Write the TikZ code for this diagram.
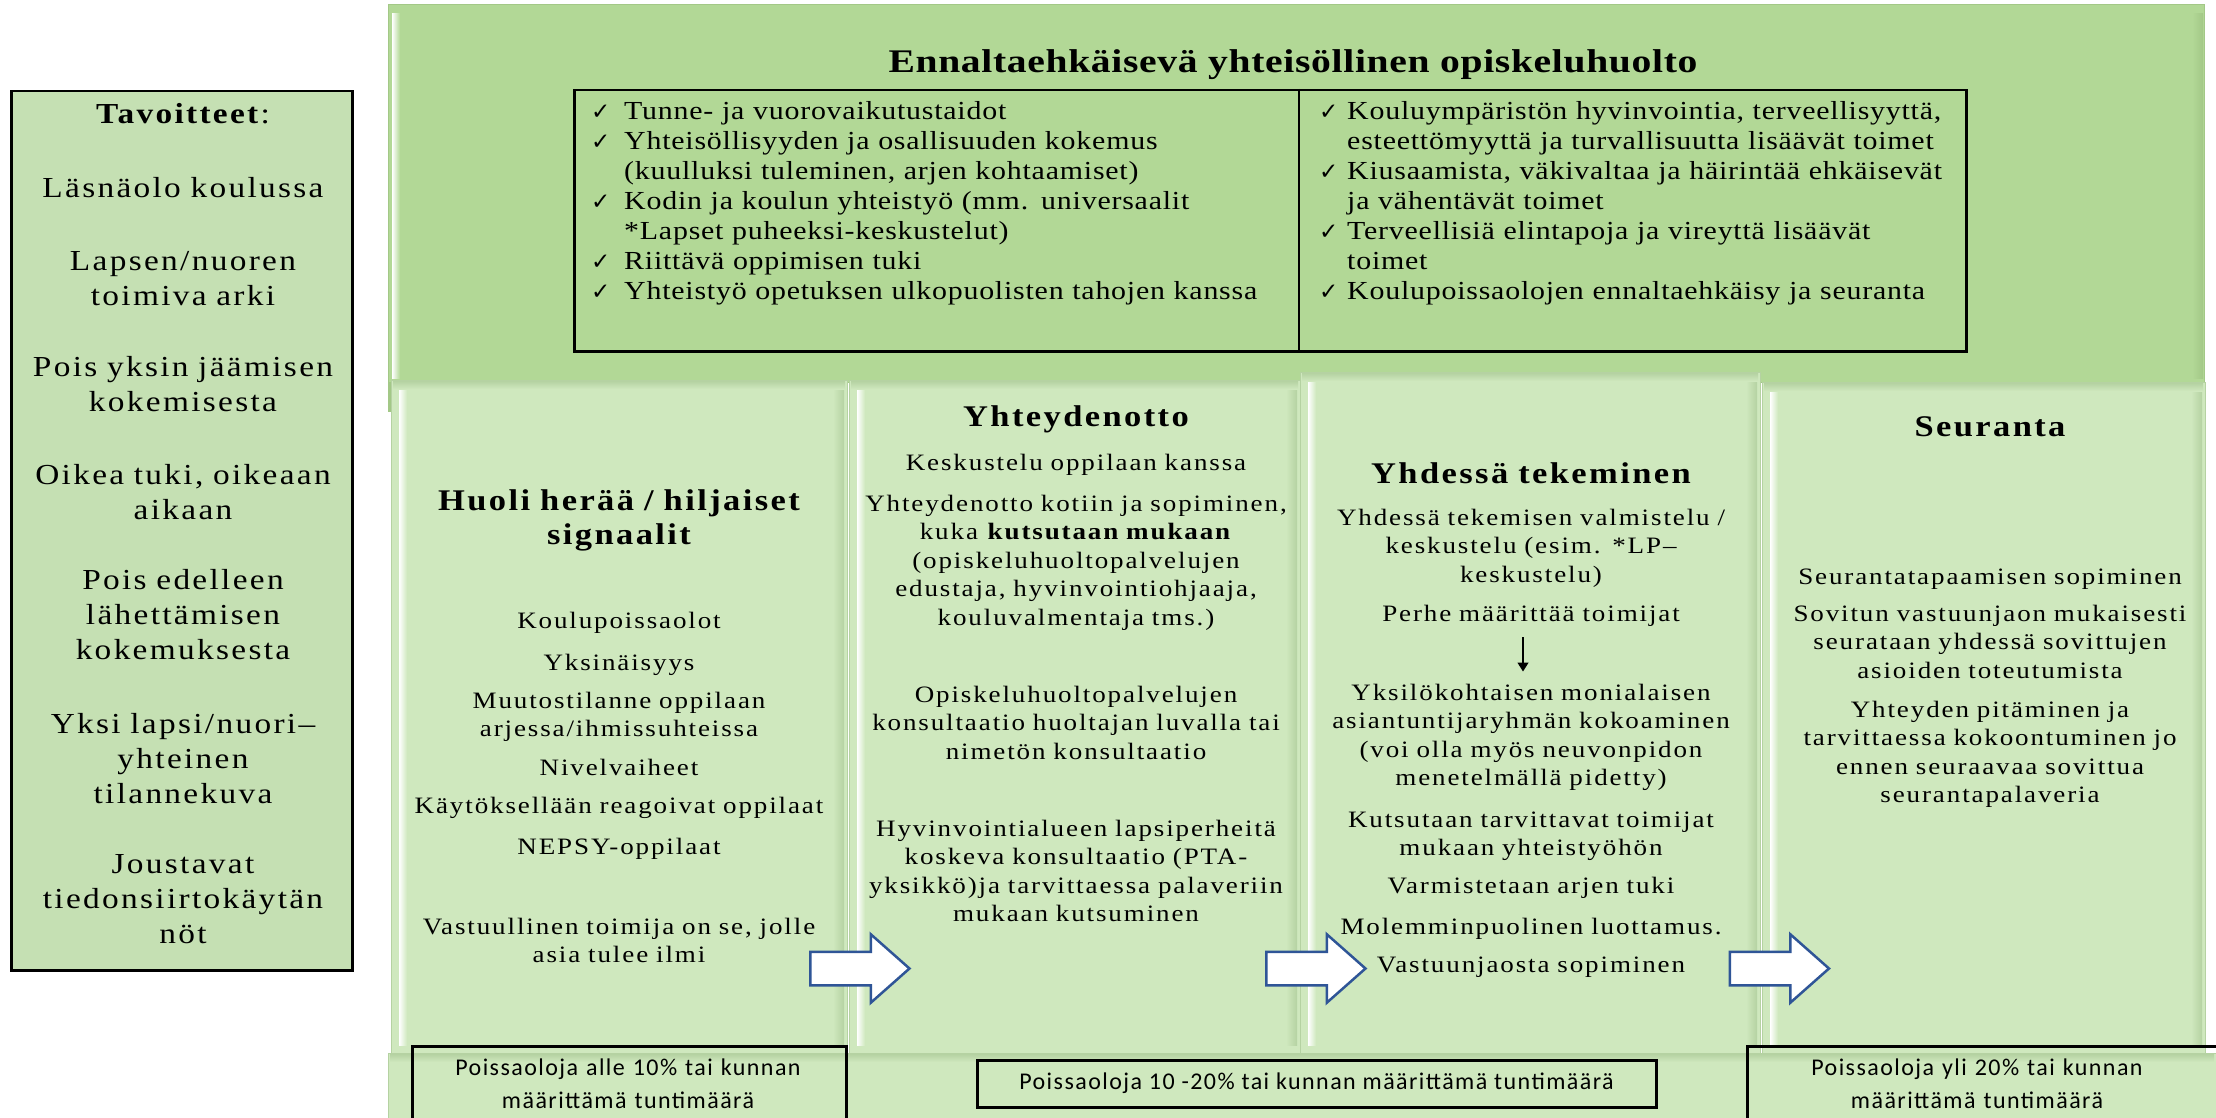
\documentclass[tikz,border=0pt]{standalone}
\usepackage{fontspec}
\setmainfont{Liberation Serif}
\newfontfamily\bodyfont{Liberation Serif}[FakeStretch=1.15,LetterSpace=8]
\newfontfamily\listfont{Liberation Serif}[FakeStretch=1.15,LetterSpace=3]
\newfontfamily\titlefont{Liberation Serif}[FakeStretch=1.2,LetterSpace=2]
\newfontfamily\calfont{Carlito}[LetterSpace=6]
\newfontfamily\symfont{DejaVu Sans}
\usetikzlibrary{shapes.arrows,arrows.meta}
\definecolor{bandfill}{HTML}{B2D896}
\definecolor{bandedge}{HTML}{A3C887}
\definecolor{colfill}{HTML}{CFE8BE}
\definecolor{colshade}{HTML}{B5D2A2}
\definecolor{tavfill}{HTML}{C5E0B3}
\definecolor{arrowblue}{HTML}{2F5597}
\newcommand\ckl{\makebox[33pt][l]{\symfont\fontsize{23}{23}\selectfont ✓}}
\newcommand\ckr{\makebox[28pt][l]{\symfont\fontsize{23}{23}\selectfont ✓}}
\newcommand\indl{\hspace*{33pt}}
\newcommand\indr{\hspace*{28pt}}
\begin{document}
\begin{tikzpicture}[x=1pt,y=-1pt,
  tavtxt/.style={anchor=base, inner sep=0, text width=360, align=center, font=\bodyfont\fontsize{29}{35}\selectfont},
  coltxt/.style={anchor=base, inner sep=0, text width=470, align=center, font=\bodyfont\fontsize{23.5}{28.5}\selectfont},
  colhead/.style={anchor=base, inner sep=0, text width=470, align=center, font=\bodyfont\bfseries\fontsize{30}{34}\selectfont},
  listtxt/.style={anchor=base west, inner sep=0, text width=700, align=left, font=\listfont\fontsize{26}{30}\selectfont},
  poiss/.style={anchor=base, inner sep=0, text width=460, align=center, font=\calfont\fontsize{24}{33}\selectfont},
  colbox/.style={draw=colshade, line width=1pt, fill=colfill, inner sep=0, anchor=north west},
  pbox/.style={draw=black, line width=2.5pt, inner sep=0, anchor=north west},
  blockarrow/.style={single arrow, draw=arrowblue, line width=2.5pt, fill=white, inner xsep=0, inner ysep=15.5pt, single arrow head extend=17.5pt, minimum height=99pt, single arrow tip angle=83}
]
\useasboundingbox (0,0) rectangle (2216,1118);
\fill[white] (0,0) rectangle (2216,1118);

% goals box
\node[draw=black, line width=2.5pt, fill=tavfill, minimum width=341, minimum height=879, inner sep=0, anchor=north west] (tavbox) at (10,90) {};
\node[tavtxt] (tav0) at (183,124) {\textbf{Tavoitteet}:};
\node[tavtxt] (tav1) at (183,197) {Läsnäolo koulussa};
\node[tavtxt] (tav2) at (183,270) {Lapsen/nuoren\\toimiva arki};
\node[tavtxt] (tav3) at (183,376) {Pois yksin jäämisen\\kokemisesta};
\node[tavtxt] (tav4) at (183,484) {Oikea tuki, oikeaan\\aikaan};
\node[tavtxt] (tav5) at (183,589) {Pois edelleen\\lähettämisen\\kokemuksesta};
\node[tavtxt] (tav6) at (183,733) {Yksi lapsi/nuori–\\yhteinen\\tilannekuva};
\node[tavtxt] (tav7) at (183,873) {Joustavat\\tiedonsiirtokäytän\\nöt};

% top band
\node[fill=bandfill, draw=bandedge, line width=1pt, minimum width=1816, minimum height=378, inner sep=0, anchor=north west] (band) at (388,4) {};
\fill[bandedge] (388,382) rectangle (392,412);
\shade[left color=white, right color=bandfill] (392,14) rectangle (400,378);
\shade[left color=bandfill, right color=bandedge] (2192,14) rectangle (2203,378);

% columns
\node[colbox, minimum width=456, minimum height=673] (col1) at (391,380) {};
\node[colbox, minimum width=451, minimum height=673] (col2) at (849,380) {};
\node[colbox, minimum width=460, minimum height=681] (col3) at (1300,372) {};
\node[colbox, minimum width=443, minimum height=671] (col4) at (1762,382) {};
\node[colbox, minimum width=1828, minimum height=70] (strip) at (388,1053) {};
\foreach \xl/\xr/\yt in {391/847/380, 849/1300/380, 1300/1760/372, 1762/2205/382}{
  \shade[top color=colshade, bottom color=colfill] (\xl+2,\yt+1) rectangle (\xr-2,\yt+9);
  \shade[left color=white, right color=colfill] (\xl+8,\yt+10) rectangle (\xl+16,1045);
  \shade[left color=colfill, right color=colshade] (\xr-14,\yt+10) rectangle (\xr-3,1045);
}
\shade[top color=colshade, bottom color=colfill] (390,1054) rectangle (2214,1062);

% preventive list
\node[draw=black, line width=2.5pt, minimum width=1392, minimum height=261, inner sep=0, anchor=north west] (listbox) at (573,89) {};
\coordinate (divtop) at (1299,89);
\coordinate (divbot) at (1299,350);
\draw[line width=2.5pt] (divtop) -- (divbot);
\node[anchor=base, inner sep=0, font=\titlefont\bfseries\fontsize{33}{38}\selectfont] (title) at (1293,73) {Ennaltaehkäisevä yhteisöllinen opiskeluhuolto};
\node[listtxt] (listL) at (591,120) {\ckl Tunne- ja vuorovaikutustaidot\\
\ckl Yhteisöllisyyden ja osallisuuden kokemus\\
\indl (kuulluksi tuleminen, arjen kohtaamiset)\\
\ckl Kodin ja koulun yhteistyö (mm. universaalit\\
\indl *Lapset puheeksi-keskustelut)\\
\ckl Riittävä oppimisen tuki\\
\ckl Yhteistyö opetuksen ulkopuolisten tahojen kanssa};
\node[listtxt] (listR) at (1319,120) {\ckr Kouluympäristön hyvinvointia, terveellisyyttä,\\
\indr esteettömyyttä ja turvallisuutta lisäävät toimet\\
\ckr Kiusaamista, väkivaltaa ja häirintää ehkäisevät\\
\indr ja vähentävät toimet\\
\ckr Terveellisiä elintapoja ja vireyttä lisäävät\\
\indr toimet\\
\ckr Koulupoissaolojen ennaltaehkäisy ja seuranta};

% column 1
\node[colhead] (head1) at (619,510) {Huoli herää / hiljaiset\\signaalit};
\node[coltxt] (c1a) at (619,628) {Koulupoissaolot};
\node[coltxt] (c1b) at (619,670) {Yksinäisyys};
\node[coltxt] (c1c) at (619,708) {Muutostilanne oppilaan\\arjessa/ihmissuhteissa};
\node[coltxt] (c1d) at (619,775) {Nivelvaiheet};
\node[coltxt] (c1e) at (619,813) {Käytöksellään reagoivat oppilaat};
\node[coltxt] (c1f) at (619,854) {NEPSY-oppilaat};
\node[coltxt] (c1g) at (619,934) {Vastuullinen toimija on se, jolle\\asia tulee ilmi};

% column 2
\node[colhead] (head2) at (1076,426) {Yhteydenotto};
\node[coltxt] (c2a) at (1076,470) {Keskustelu oppilaan kanssa};
\node[coltxt] (c2b) at (1076,511) {Yhteydenotto kotiin ja sopiminen,\\kuka \textbf{kutsutaan mukaan}\\(opiskeluhuoltopalvelujen\\edustaja, hyvinvointiohjaaja,\\kouluvalmentaja tms.)};
\node[coltxt] (c2c) at (1076,702) {Opiskeluhuoltopalvelujen\\konsultaatio huoltajan luvalla tai\\nimetön konsultaatio};
\node[coltxt] (c2d) at (1076,836) {Hyvinvointialueen lapsiperheitä\\koskeva konsultaatio (PTA-\\yksikkö)ja tarvittaessa palaveriin\\mukaan kutsuminen};

% column 3
\node[colhead] (head3) at (1531,483) {Yhdessä tekeminen};
\node[coltxt] (c3a) at (1531,525) {Yhdessä tekemisen valmistelu /\\keskustelu (esim. *LP–\\keskustelu)};
\node[coltxt] (perhe) at (1531,621) {Perhe määrittää toimijat};
\node[coltxt] (yksilo) at (1531,700) {Yksilökohtaisen monialaisen\\asiantuntijaryhmän kokoaminen\\(voi olla myös neuvonpidon\\menetelmällä pidetty)};
\node[coltxt] (c3c) at (1531,827) {Kutsutaan tarvittavat toimijat\\mukaan yhteistyöhön};
\node[coltxt] (c3d) at (1531,893) {Varmistetaan arjen tuki};
\node[coltxt] (c3e) at (1531,934) {Molemminpuolinen luottamus.};
\node[coltxt] (c3f) at (1531,972) {Vastuunjaosta sopiminen};
\draw[line width=1.3pt, -{Triangle[length=9pt,width=11pt]}] ([xshift=-8pt,yshift=-11pt]perhe.south) -- ([xshift=-8pt,yshift=12pt]yksilo.north);

% column 4
\node[colhead] (head4) at (1990,436) {Seuranta};
\node[coltxt] (c4a) at (1990,584) {Seurantatapaamisen sopiminen};
\node[coltxt] (c4b) at (1990,621) {Sovitun vastuunjaon mukaisesti\\seurataan yhdessä sovittujen\\asioiden toteutumista};
\node[coltxt] (c4c) at (1990,717) {Yhteyden pitäminen ja\\tarvittaessa kokoontuminen jo\\ennen seuraavaa sovittua\\seurantapalaveria};

% block arrows
\node[blockarrow] (arr1) at (850.5,968.5) {};
\node[blockarrow] (arr2) at (1306.5,968.5) {};
\node[blockarrow] (arr3) at (1770,968.5) {};

% absence boxes
\node[pbox, minimum width=434, minimum height=80] (pbox1) at (411,1045) {};
\node[poiss] (ptxt1) at (628,1075) {Poissaoloja alle 10\% tai kunnan\\määrittämä tuntimäärä};
\node[draw=black, line width=3pt, minimum width=679, minimum height=47, inner sep=0, font=\calfont\fontsize{24}{33}\selectfont] (pbox2) at (1316.5,1083.5) {Poissaoloja 10 -20\% tai kunnan määrittämä tuntimäärä};
\node[pbox, minimum width=480, minimum height=80] (pbox3) at (1746,1045) {};
\node[poiss] (ptxt3) at (1977,1075) {Poissaoloja yli 20\% tai kunnan\\määrittämä tuntimäärä};
\end{tikzpicture}
\end{document}
